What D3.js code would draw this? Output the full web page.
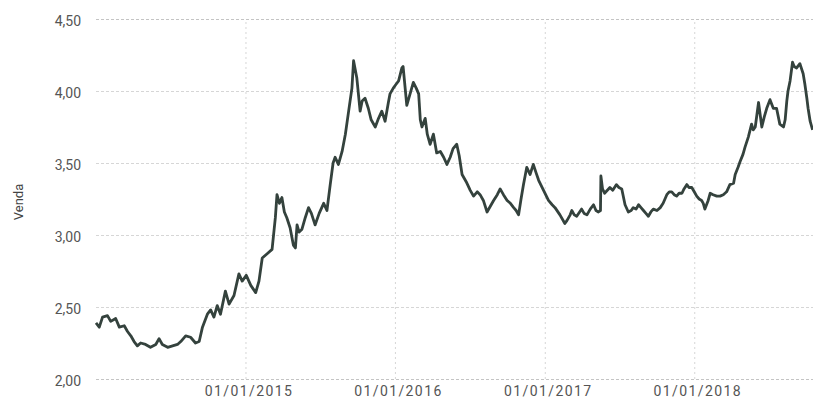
<!DOCTYPE html>
<html>
<head>
<meta charset="utf-8">
<script src="https://cdn.jsdelivr.net/npm/d3@7"></script>
<style>
  html, body { margin: 0; padding: 0; background: #fff; }
  svg { display: block; }
</style>
</head>
<body>
<svg id="chart" width="813" height="405"></svg>
<script>
const dates = [
  "2014-01-01","2014-01-09","2014-01-17","2014-01-29","2014-02-06","2014-02-18","2014-02-27","2014-03-11","2014-03-19","2014-03-27",
  "2014-04-04","2014-04-12","2014-04-20","2014-05-02","2014-05-14","2014-05-27","2014-06-04","2014-06-12","2014-06-25","2014-07-07",
  "2014-07-19","2014-07-27","2014-08-08","2014-08-20","2014-09-01","2014-09-10","2014-09-18","2014-09-30","2014-10-08","2014-10-16",
  "2014-10-24","2014-11-01","2014-11-13","2014-11-22","2014-12-04","2014-12-16","2014-12-24","2015-01-03","2015-01-14","2015-01-26",
  "2015-02-03","2015-02-11","2015-02-23","2015-03-07","2015-03-15","2015-03-19","2015-03-25","2015-03-31","2015-04-06","2015-04-12",
  "2015-04-20","2015-04-28","2015-05-03","2015-05-07","2015-05-12","2015-05-19","2015-05-27","2015-06-04","2015-06-11","2015-06-20",
  "2015-06-30","2015-07-11","2015-07-19","2015-07-27","2015-08-03","2015-08-08","2015-08-16","2015-08-25","2015-09-02","2015-09-10",
  "2015-09-18","2015-09-22","2015-09-30","2015-10-08","2015-10-13","2015-10-20","2015-10-28","2015-11-04","2015-11-14","2015-11-22",
  "2015-11-30","2015-12-08","2015-12-16","2015-12-20","2015-12-28","2016-01-02","2016-01-10","2016-01-18","2016-01-21","2016-01-30",
  "2016-02-07","2016-02-15","2016-02-22","2016-02-28","2016-03-03","2016-03-07","2016-03-15","2016-03-20","2016-03-27","2016-04-04",
  "2016-04-12","2016-04-21","2016-04-29","2016-05-07","2016-05-15","2016-05-22","2016-05-31","2016-06-06","2016-06-13","2016-06-23",
  "2016-07-03","2016-07-11","2016-07-20","2016-07-27","2016-08-04","2016-08-13","2016-08-21","2016-08-29","2016-09-07","2016-09-14",
  "2016-09-22","2016-10-01","2016-10-09","2016-10-17","2016-10-23","2016-10-29","2016-11-04","2016-11-10","2016-11-18","2016-11-26",
  "2016-12-04","2016-12-11","2016-12-17","2016-12-29","2017-01-10","2017-01-19","2017-01-26","2017-02-07","2017-02-19","2017-02-24",
  "2017-03-04","2017-03-08","2017-03-14","2017-03-20","2017-04-01","2017-04-07","2017-04-14","2017-04-22","2017-04-30","2017-05-06",
  "2017-05-12","2017-05-17","2017-05-18","2017-05-22","2017-05-27","2017-06-09","2017-06-16","2017-06-25","2017-07-01","2017-07-08",
  "2017-07-16","2017-07-24","2017-07-31","2017-08-05","2017-08-12","2017-08-18","2017-08-24","2017-08-30","2017-09-05","2017-09-11",
  "2017-09-17","2017-09-23","2017-10-02","2017-10-10","2017-10-17","2017-10-26","2017-11-01","2017-11-07","2017-11-13","2017-11-19",
  "2017-11-25","2017-12-02","2017-12-07","2017-12-14","2017-12-19","2017-12-26","2018-01-01","2018-01-07","2018-01-13","2018-01-19",
  "2018-01-23","2018-01-27","2018-02-04","2018-02-09","2018-02-16","2018-02-25","2018-03-05","2018-03-13","2018-03-21","2018-03-29",
  "2018-04-07","2018-04-11","2018-04-18","2018-04-23","2018-04-30","2018-05-05","2018-05-13","2018-05-21","2018-05-25","2018-05-30",
  "2018-06-07","2018-06-15","2018-06-21","2018-06-27","2018-07-05","2018-07-13","2018-07-21","2018-07-29","2018-08-07","2018-08-11",
  "2018-08-15","2018-08-18","2018-08-23","2018-08-29","2018-09-02","2018-09-08","2018-09-16","2018-09-24","2018-09-28","2018-10-03",
  "2018-10-06","2018-10-11","2018-10-17"
];
const venda = [
  2.39,2.36,2.43,2.44,2.40,2.42,2.36,2.37,2.33,2.30,
  2.26,2.23,2.25,2.24,2.22,2.24,2.28,2.24,2.22,2.23,
  2.24,2.26,2.30,2.29,2.25,2.26,2.36,2.45,2.48,2.43,
  2.51,2.45,2.61,2.52,2.58,2.73,2.68,2.72,2.65,2.60,
  2.68,2.84,2.87,2.90,3.12,3.28,3.22,3.26,3.16,3.12,
  3.05,2.93,2.91,3.07,3.02,3.04,3.12,3.19,3.15,3.07,
  3.15,3.22,3.17,3.35,3.50,3.54,3.49,3.58,3.70,3.86,
  4.02,4.21,4.09,3.86,3.93,3.95,3.88,3.80,3.75,3.81,
  3.86,3.79,3.92,3.98,4.02,4.04,4.07,4.16,4.17,3.90,
  3.98,4.06,4.02,3.98,3.80,3.75,3.81,3.70,3.63,3.70,
  3.57,3.58,3.54,3.49,3.54,3.60,3.63,3.55,3.42,3.37,
  3.31,3.27,3.30,3.28,3.24,3.16,3.20,3.24,3.28,3.32,
  3.28,3.24,3.22,3.19,3.17,3.14,3.25,3.35,3.47,3.42,
  3.49,3.43,3.38,3.31,3.24,3.21,3.19,3.14,3.08,3.10,
  3.14,3.17,3.14,3.13,3.18,3.15,3.14,3.18,3.21,3.17,
  3.16,3.17,3.41,3.32,3.29,3.33,3.31,3.35,3.33,3.32,
  3.21,3.16,3.17,3.19,3.18,3.21,3.19,3.17,3.15,3.13,
  3.16,3.18,3.17,3.19,3.22,3.28,3.30,3.30,3.28,3.27,
  3.29,3.29,3.32,3.35,3.33,3.33,3.30,3.27,3.25,3.24,
  3.22,3.18,3.24,3.29,3.28,3.27,3.27,3.28,3.30,3.35,
  3.36,3.42,3.47,3.51,3.56,3.61,3.68,3.77,3.73,3.75,
  3.92,3.75,3.82,3.88,3.94,3.88,3.88,3.77,3.75,3.80,
  3.93,4.00,4.07,4.20,4.17,4.16,4.19,4.12,4.05,3.95,
  3.88,3.79,3.73
];
const yTicks = [2.0, 2.5, 3.0, 3.5, 4.0, 4.5];
const xTickDates = ["2015-01-01","2016-01-01","2017-01-01","2018-01-01"];
const xTickLabels = ["01/01/2015","01/01/2016","01/01/2017","01/01/2018"];
const yTitle = "Venda";

const parse = d3.utcParse("%Y-%m-%d");
const data = dates.map((d, i) => ({ date: parse(d), value: venda[i] }));

const svg = d3.select("#chart");
const mLeft = 96, mRight = 813, mTop = 19, mBottom = 379;

const x = d3.scaleUtc()
  .domain([parse("2014-01-01"), parse("2018-10-18")])
  .range([mLeft, mRight]);
const y = d3.scaleLinear().domain([2, 4.5]).range([mBottom, mTop]);

const fmt = v => d3.format(".2f")(v).replace(".", ",");

// horizontal gridlines
svg.append("g")
  .attr("transform", `translate(${mLeft},0)`)
  .call(d3.axisLeft(y).tickValues(yTicks).tickSize(-(mRight - mLeft)).tickFormat(""))
  .call(g => g.select(".domain").remove())
  .call(g => g.selectAll("line")
    .attr("stroke", (d) => (d === 4.5 || d === 2.0) ? "#c4c4c4" : "#d6d6d6")
    .attr("stroke-dasharray", "3,2"));

// vertical gridlines
svg.append("g")
  .attr("transform", `translate(0,${mBottom})`)
  .call(d3.axisBottom(x).tickValues(xTickDates.map(parse)).tickSize(-(mBottom - mTop)).tickFormat(""))
  .call(g => g.select(".domain").remove())
  .call(g => g.selectAll("line")
    .attr("stroke", "#d6d6d6")
    .attr("stroke-dasharray", "2,3"));

// y labels
svg.append("g")
  .attr("transform", `translate(${mLeft - 12},0)`)
  .call(d3.axisLeft(y).tickValues(yTicks).tickSize(0).tickFormat(fmt))
  .call(g => g.select(".domain").remove())
  .call(g => g.selectAll("text")
    .attr("fill", "#555")
    .attr("dy", "0.45em")
    .style("font-family", "Roboto, Arial, sans-serif")
    .style("font-size", "14px"));

// x labels
svg.append("g")
  .attr("transform", `translate(0,${mBottom + 4})`)
  .call(d3.axisBottom(x).tickValues(xTickDates.map(parse)).tickSize(0)
    .tickFormat((d, i) => xTickLabels[i]))
  .call(g => g.select(".domain").remove())
  .call(g => g.selectAll("text")
    .attr("fill", "#555")
    .attr("dx", "3")
    .style("letter-spacing", "1.4px")
    .style("font-family", "Roboto, Arial, sans-serif")
    .style("font-size", "14px"));

// y title
svg.append("text")
  .attr("transform", `translate(23,202) rotate(-90)`)
  .attr("text-anchor", "middle")
  .attr("fill", "#444")
  .style("font-family", "Roboto, Arial, sans-serif")
  .style("font-size", "13px")
  .text(yTitle);

// line
const line = d3.line().x(d => x(d.date)).y(d => y(d.value));
svg.append("path")
  .datum(data)
  .attr("fill", "none")
  .attr("stroke", "#34423d")
  .attr("stroke-width", 2.8)
  .attr("stroke-linejoin", "round")
  .attr("d", line);
</script>
</body>
</html>
